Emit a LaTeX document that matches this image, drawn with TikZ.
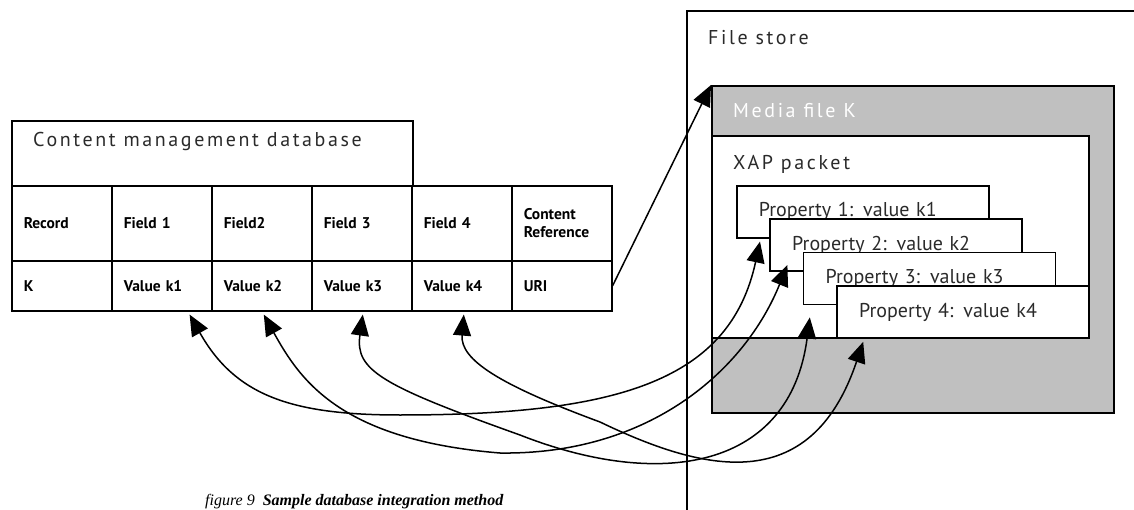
\documentclass[tikz,border=0pt]{standalone}
\usepackage{fontspec}
\setmainfont{Liberation Serif}
\setsansfont{PT Sans}
\newfontfamily\spacedsans[LetterSpace=13]{PT Sans}
\usetikzlibrary{arrows.meta}
\definecolor{mediagray}{HTML}{C0C0C0}
\definecolor{softblack}{HTML}{2A2A2A}
\tikzset{
  box/.style={draw,line width=1.6pt,rectangle,inner sep=0pt,anchor=north west},
  cell/.style={box,minimum width=100pt,text width=76pt,align=left,inner xsep=12pt,
    font=\sffamily\bfseries\fontsize{15.5}{18.5}\selectfont},
  proptag/.style={box,fill=white,minimum width=252pt,minimum height=52pt,text width=208pt,
    align=left,inner xsep=22pt,text=softblack,font=\sffamily\fontsize{20}{24}\selectfont},
  lighttext/.style={anchor=base west,inner sep=0pt,text=softblack,font=\spacedsans\fontsize{20}{24}\selectfont},
  link/.style={line width=1.5pt,{Triangle[length=21pt,width=18pt]}-{Triangle[length=21pt,width=18pt]}},
  uplink/.style={line width=1.5pt,-{Triangle[length=21pt,width=18pt]}}
}
\begin{document}
\begin{tikzpicture}[x=1pt,y=-1pt]
\useasboundingbox (0,0) rectangle (1134,510);
\clip (0,0) rectangle (1134,510);
% database side
\node[box,minimum width=401pt,minimum height=65pt] (dbtitle) at (11,120) {};
\node[lighttext] (dbtitletext) at (33,147) {Content management database};
\foreach \name/\head/\val [count=\i from 0] in
  {rec/Record/K,f1/Field 1/Value k1,f2/Field2/Value k2,f3/Field 3/Value k3,
   f4/Field 4/Value k4,ref/{Content\\Reference}/URI}
 {\node[cell,minimum height=75pt] (h\name) at (11+100*\i,185) {\head};
  \node[cell,minimum height=50pt] (v\name) at (11+100*\i,260) {\val};}
% file store side
\node[box,minimum width=480pt,minimum height=540pt] (filestore) at (686,10) {};
\node[lighttext] (filestoretext) at (708,45) {File store};
\node[box,fill=mediagray,minimum width=402pt,minimum height=327pt] (media) at (711,85) {};
\node[lighttext,text=white] (mediatext) at (733,118) {Media file K};
\node[box,fill=white,minimum width=377pt,minimum height=202pt] (xap) at (711,135) {};
\node[lighttext] (xaptext) at (733,170) {XAP packet};
\foreach \i in {1,...,4}
  \node[proptag] (prop\i) at (736+33.4*\i-33.4,185+33.4*\i-33.4) {Property \i: value k\i};
% connectors
\draw[uplink] (vref.east) -- (media.north west);
\draw[link] ([xshift=24pt,yshift=-3pt]prop1.south west) .. controls (730,380) and (620,415) .. (400,415)
  .. controls (290,415) and (235,395) .. ([xshift=-23pt,yshift=-3pt]vf1.south east);
\draw[link] ([xshift=18pt,yshift=7pt]prop2.south west) .. controls (745,370) and (650,455) .. (500,453)
  .. controls (340,440) and (300,380) .. ([xshift=2pt,yshift=-3pt]vf2.south);
\draw[link] ([xshift=7pt,yshift=-12pt]prop3.south west) .. controls (790,470) and (660,490) .. (520,435)
  .. controls (380,385) and (355,370) .. ([xshift=1pt,yshift=-3pt]vf3.south);
\draw[link] ([xshift=27pt,yshift=-3pt]prop4.south west) .. controls (810,500) and (700,470) .. (600,422)
  .. controls (500,385) and (460,360) .. ([xshift=2pt,yshift=-3pt]vf4.south);
\node[anchor=base west,inner sep=0pt,font=\itshape\fontsize{16}{18}\selectfont] (caption) at (205,505)
  {figure 9\enspace\textbf{Sample database integration method}};
\end{tikzpicture}
\end{document}
